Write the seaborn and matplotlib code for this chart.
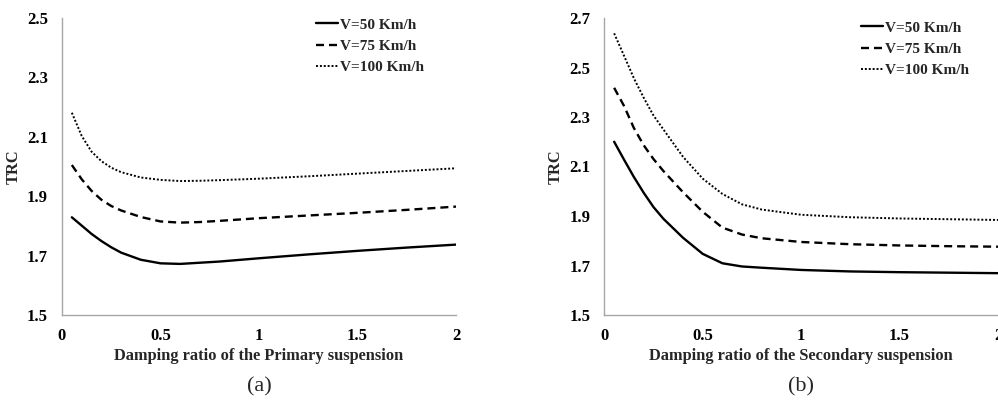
import matplotlib
matplotlib.use("Agg")
import matplotlib.pyplot as plt
import seaborn as sns
import pandas as pd

# Damping ratio samples
damping = [0.05, 0.1, 0.15, 0.2, 0.25, 0.3, 0.4, 0.5, 0.6, 0.7, 0.8, 1.0, 1.25, 1.5, 1.75, 2.0]

# (a) primary suspension
primary_v50 = [1.829, 1.801, 1.773, 1.749, 1.728, 1.710, 1.686, 1.674, 1.672, 1.676, 1.680, 1.691, 1.704, 1.716, 1.727, 1.737]
primary_v75 = [2.005, 1.957, 1.918, 1.888, 1.867, 1.852, 1.830, 1.815, 1.811, 1.813, 1.817, 1.826, 1.835, 1.844, 1.854, 1.865]
primary_v100 = [2.181, 2.103, 2.050, 2.018, 1.996, 1.981, 1.963, 1.955, 1.951, 1.952, 1.954, 1.959, 1.967, 1.976, 1.985, 1.994]

# (b) secondary suspension
secondary_v50 = [2.200, 2.128, 2.058, 1.994, 1.936, 1.889, 1.812, 1.747, 1.709, 1.696, 1.691, 1.682, 1.676, 1.673, 1.671, 1.669]
secondary_v75 = [2.418, 2.345, 2.256, 2.186, 2.130, 2.082, 1.996, 1.917, 1.853, 1.825, 1.810, 1.795, 1.786, 1.781, 1.778, 1.776]
secondary_v100 = [2.638, 2.548, 2.457, 2.378, 2.306, 2.250, 2.139, 2.051, 1.989, 1.947, 1.926, 1.905, 1.895, 1.890, 1.887, 1.884]

speed_labels = ["V=50 Km/h", "V=75 Km/h", "V=100 Km/h"]
x_ticks = [0, 0.5, 1, 1.5, 2]
x_ticklabels = ["0", "0.5", "1", "1.5", "2"]
yticks_a = [1.5, 1.7, 1.9, 2.1, 2.3, 2.5]
yticks_b = [1.5, 1.7, 1.9, 2.1, 2.3, 2.5, 2.7]
xlabel_a = "Damping ratio of the Primary suspension"
xlabel_b = "Damping ratio of the Secondary suspension"

sns.set_style("white")
plt.rcParams["font.family"] = ["Liberation Serif", "DejaVu Serif"]

line_styles = ["-", (0, (3.4, 2.1)), (0, (1.0, 1.0))]
line_widths = [1.7, 1.7, 1.4]

fig = plt.figure(figsize=(9.98, 4.03), dpi=100)
ax_a = fig.add_axes([62 / 998, 88 / 403, 394 / 998, 297 / 403])
ax_b = fig.add_axes([604.3 / 998, 88 / 403, 393.7 / 998, 297 / 403])

spine_color = "#a6a6a6"


def draw_panel(ax, series, yticks, xlabel, tag, legend_anchor):
    for vals, lab, ls, lw in zip(series, speed_labels, line_styles, line_widths):
        df = pd.DataFrame({"zeta": damping, "trc": vals})
        sns.lineplot(data=df, x="zeta", y="trc", ax=ax, color="black",
                     linestyle=ls, linewidth=lw, label=lab)
    ax.set_xlim(0, 2)
    ax.set_ylim(yticks[0], yticks[-1])
    ax.set_xticks(x_ticks)
    ax.set_xticklabels(x_ticklabels)
    ax.set_yticks(yticks)
    ax.set_yticklabels([f"{t:.1f}" for t in yticks])
    for lbl in ax.get_xticklabels() + ax.get_yticklabels():
        lbl.set_fontweight("bold")
        lbl.set_fontsize(12)
    ax.tick_params(axis="both", direction="in", length=4, width=0.8,
                   color=spine_color, colors="black")
    ax.tick_params(axis="x", pad=9)
    ax.tick_params(axis="y", pad=10)
    for side in ["top", "right"]:
        ax.spines[side].set_visible(False)
    for side in ["left", "bottom"]:
        ax.spines[side].set_color(spine_color)
        ax.spines[side].set_linewidth(1.0)
    ax.set_xlabel(xlabel, fontsize=11.8, fontweight="bold", labelpad=3)
    ax.set_ylabel("TRC", fontsize=11.8, fontweight="bold", labelpad=4)
    ax.legend(loc="upper left", bbox_to_anchor=legend_anchor, frameon=False,
              handlelength=1.45, handletextpad=0.1, labelspacing=0.5,
              borderpad=0, borderaxespad=0,
              prop={"family": ["Liberation Serif"], "weight": "bold", "size": 11})
    ax.text(0.5, -0.21, tag, transform=ax.transAxes, ha="center", va="top",
            fontsize=16)


draw_panel(ax_a, [primary_v50, primary_v75, primary_v100], yticks_a, xlabel_a,
           "(a)", (0.645, 1.0))
draw_panel(ax_b, [secondary_v50, secondary_v75, secondary_v100], yticks_b, xlabel_b,
           "(b)", (0.652, 0.99))

fig.savefig("out.png", dpi=100)
